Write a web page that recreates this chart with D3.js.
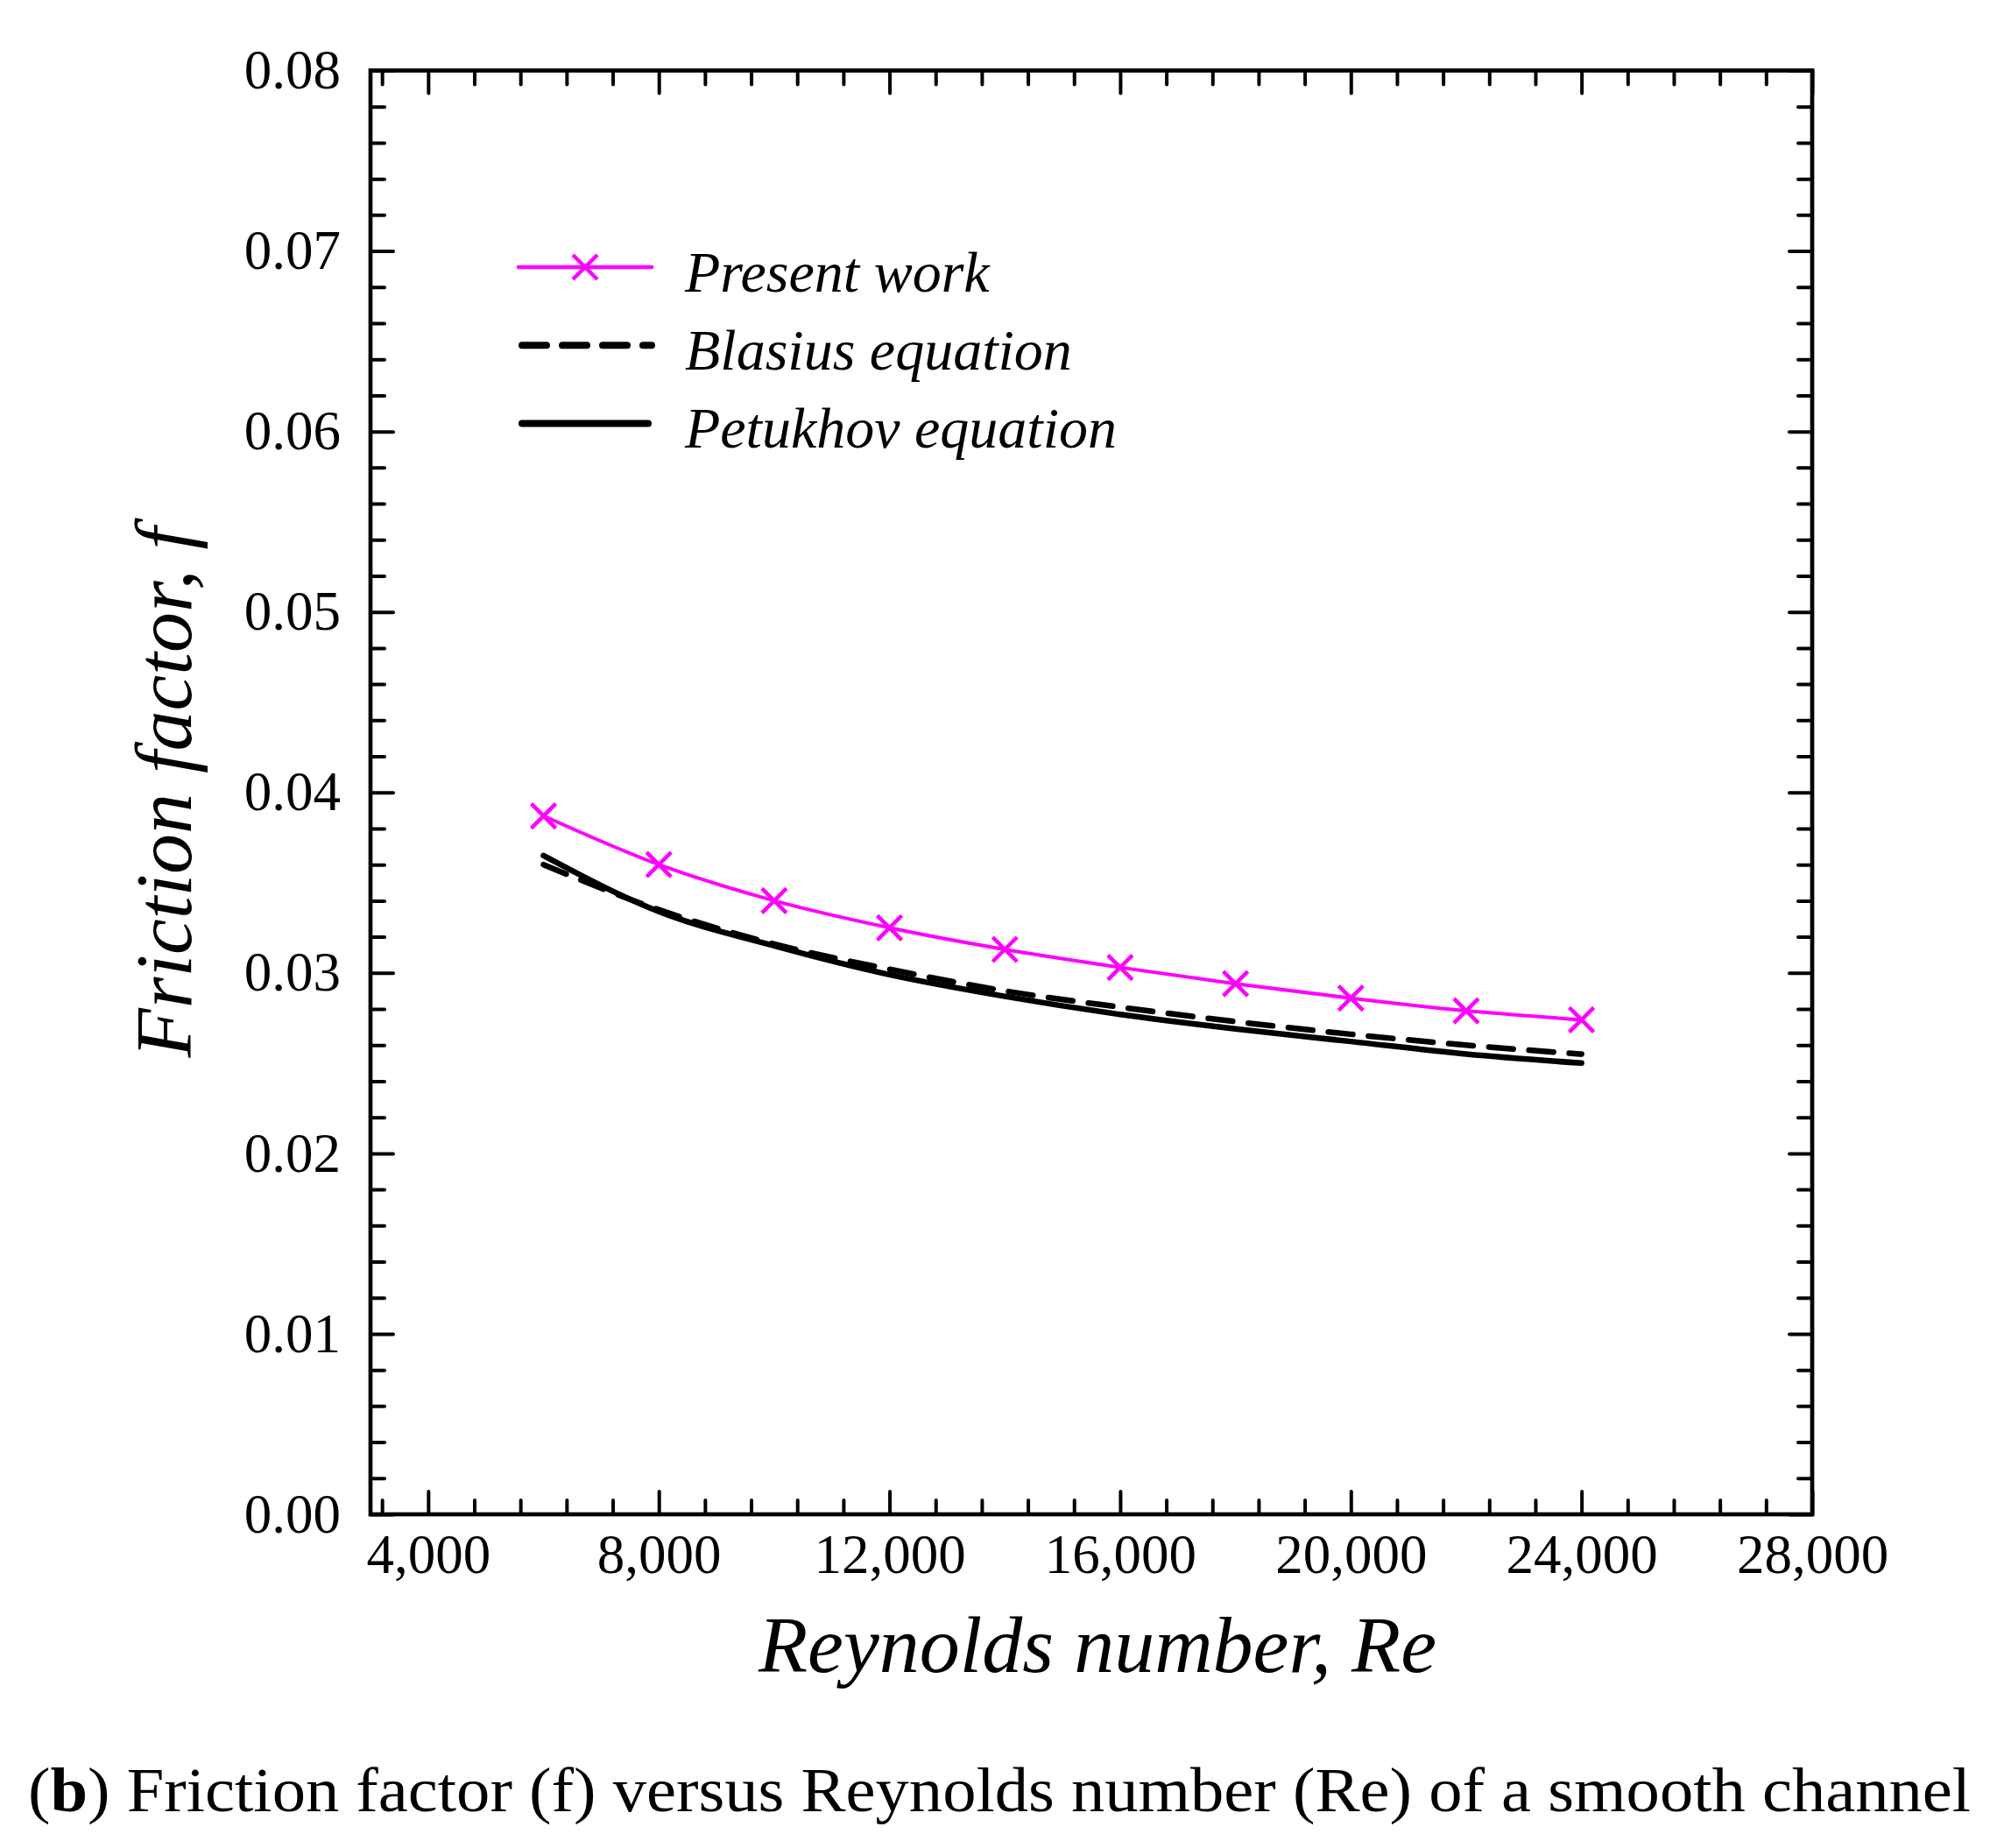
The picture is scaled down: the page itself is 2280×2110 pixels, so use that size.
<!DOCTYPE html>
<html>
<head>
<meta charset="utf-8">
<script src="https://cdn.jsdelivr.net/npm/d3@7"></script>
<style>
  body { margin: 0; background: #fff; }
  svg { display: block; }
</style>
</head>
<body>
<script>
var width = 2280, height = 2110;

// Reynolds numbers of the computed cases
const reynolds = [6000, 8000, 10000, 12000, 14000, 16000, 18000, 20000, 22000, 24000];
// friction factor
const presentWork = [0.0387, 0.0360, 0.0340, 0.0325, 0.0313, 0.0303, 0.0294, 0.0286, 0.0279, 0.0274];
const blasius = [0.0360, 0.0335, 0.0316, 0.0302, 0.0290, 0.0281, 0.0273, 0.0266, 0.0260, 0.0255];
const petukhov = [0.0365, 0.0334, 0.0315, 0.0299, 0.0287, 0.0277, 0.0269, 0.0262, 0.0255, 0.0250];

const seriesNames = ["Present work", "Blasius equation", "Petukhov equation"];
const xMajorTicks = [4000, 8000, 12000, 16000, 20000, 24000, 28000];
const yMajorTicks = [0, 0.01, 0.02, 0.03, 0.04, 0.05, 0.06, 0.07, 0.08];

const magenta = "#ff00ff";
const font = "'Liberation Serif', 'DejaVu Serif', serif";

// plot box
var boxL = 423, boxR = 2069, boxT = 80.5, boxB = 1729;

var svg = d3.select('body').append('svg').attr('width', width).attr('height', height);
svg.append('rect').attr('width', width).attr('height', height).attr('fill', '#fff');

var x = d3.scaleLinear().domain([3000, 28000]).range([boxL, boxR]);
var y = d3.scaleLinear().domain([0, 0.08]).range([boxB, boxT]);

// minor ticks every 800 (x) and 0.002 (y)
var xMinor = d3.range(3200, 28000, 800).filter(v => xMajorTicks.indexOf(v) < 0);
var yMinor = d3.range(1, 40).filter(i => i % 5 != 0).map(i => i * 0.002);

function styleAxis(g) {
  g.select('.domain').remove();
  g.selectAll('.tick line').attr('stroke', '#000').attr('stroke-width', 4).attr('stroke-linecap', 'round');
  g.selectAll('text').attr('font-family', font).attr('font-size', 63).attr('fill', '#000');
}

// bottom
svg.append('g').attr('transform', `translate(0,${boxB})`)
  .call(d3.axisBottom(x).tickValues(xMajorTicks).tickSize(-26).tickPadding(22).tickFormat(d3.format(',')))
  .call(styleAxis);
svg.append('g').attr('transform', `translate(0,${boxB})`)
  .call(d3.axisBottom(x).tickValues(xMinor).tickSize(-16).tickFormat(''))
  .call(styleAxis);
// top
svg.append('g').attr('transform', `translate(0,${boxT})`)
  .call(d3.axisTop(x).tickValues(xMajorTicks).tickSize(-26).tickFormat(''))
  .call(styleAxis);
svg.append('g').attr('transform', `translate(0,${boxT})`)
  .call(d3.axisTop(x).tickValues(xMinor).tickSize(-16).tickFormat(''))
  .call(styleAxis);
// left
svg.append('g').attr('transform', `translate(${boxL},0)`)
  .call(d3.axisLeft(y).tickValues(yMajorTicks).tickSize(-26).tickPadding(34).tickFormat(d3.format('.2f')))
  .call(styleAxis);
svg.append('g').attr('transform', `translate(${boxL},0)`)
  .call(d3.axisLeft(y).tickValues(yMinor).tickSize(-16).tickFormat(''))
  .call(styleAxis);
// right
svg.append('g').attr('transform', `translate(${boxR},0)`)
  .call(d3.axisRight(y).tickValues(yMajorTicks).tickSize(-26).tickFormat(''))
  .call(styleAxis);
svg.append('g').attr('transform', `translate(${boxR},0)`)
  .call(d3.axisRight(y).tickValues(yMinor).tickSize(-16).tickFormat(''))
  .call(styleAxis);

// frame
svg.append('rect')
  .attr('x', boxL).attr('y', boxT)
  .attr('width', boxR - boxL).attr('height', boxB - boxT)
  .attr('fill', 'none').attr('stroke', '#000').attr('stroke-width', 4.7);

var line = d3.line()
  .x((d, i) => x(reynolds[i]))
  .y(d => y(d))
  .curve(d3.curveMonotoneX);

// Blasius (dashed)
svg.append('path').datum(blasius)
  .attr('d', line)
  .attr('fill', 'none').attr('stroke', '#000').attr('stroke-width', 6.5)
  .attr('stroke-dasharray', '28 18').attr('stroke-linecap', 'round');

// Petukhov (solid)
svg.append('path').datum(petukhov)
  .attr('d', line)
  .attr('fill', 'none').attr('stroke', '#000').attr('stroke-width', 6.5)
  .attr('stroke-linecap', 'round');

// Present work
svg.append('path').datum(presentWork)
  .attr('d', line)
  .attr('fill', 'none').attr('stroke', magenta).attr('stroke-width', 4);

function cross(g, cx, cy) {
  var s = 14;
  g.append('path')
    .attr('d', `M${cx - s},${cy - s}L${cx + s},${cy + s}M${cx - s},${cy + s}L${cx + s},${cy - s}`)
    .attr('stroke', magenta).attr('stroke-width', 4.5).attr('fill', 'none');
}

var marks = svg.append('g');
presentWork.forEach(function(v, i) {
  cross(marks, x(reynolds[i]), y(v));
});

// legend
var legend = svg.append('g').attr('transform', 'translate(592,305)');
var rowGap = 89.2;
legend.append('line').attr('x1', 0).attr('x2', 152).attr('y1', 0).attr('y2', 0)
  .attr('stroke', magenta).attr('stroke-width', 4.7).attr('stroke-linecap', 'round');
cross(legend, 76, 0);
legend.append('line').attr('x1', 4).attr('x2', 152).attr('y1', rowGap).attr('y2', rowGap)
  .attr('stroke', '#000').attr('stroke-width', 8)
  .attr('stroke-dasharray', '28 18').attr('stroke-linecap', 'round');
legend.append('line').attr('x1', 4).attr('x2', 148).attr('y1', rowGap * 2).attr('y2', rowGap * 2)
  .attr('stroke', '#000').attr('stroke-width', 8).attr('stroke-linecap', 'round');
legend.selectAll('text.lbl').data(seriesNames).join('text')
  .attr('class', 'lbl')
  .attr('x', 190)
  .attr('y', (d, i) => i * rowGap + 28)
  .attr('font-family', font).attr('font-style', 'italic').attr('font-size', 66)
  .text(d => d);

// axis titles
svg.append('text')
  .attr('x', (boxL + boxR) / 2 + 7).attr('y', 1909)
  .attr('text-anchor', 'middle')
  .attr('font-family', font).attr('font-style', 'italic').attr('font-size', 92)
  .text('Reynolds number, Re');

svg.append('text')
  .attr('transform', `translate(218,${(boxT + boxB) / 2}) rotate(-90)`)
  .attr('text-anchor', 'middle')
  .attr('font-family', font).attr('font-style', 'italic').attr('font-size', 92)
  .text('Friction factor, f');

// caption
var cap = svg.append('text')
  .attr('x', 32).attr('y', 2068)
  .attr('font-family', font).attr('font-size', 72)
  .attr('textLength', 2218).attr('lengthAdjust', 'spacingAndGlyphs');
cap.append('tspan').text('(');
cap.append('tspan').attr('font-weight', 'bold').text('b');
cap.append('tspan').text(') Friction factor (f) versus Reynolds number (Re) of a smooth channel');
</script>
</body>
</html>
